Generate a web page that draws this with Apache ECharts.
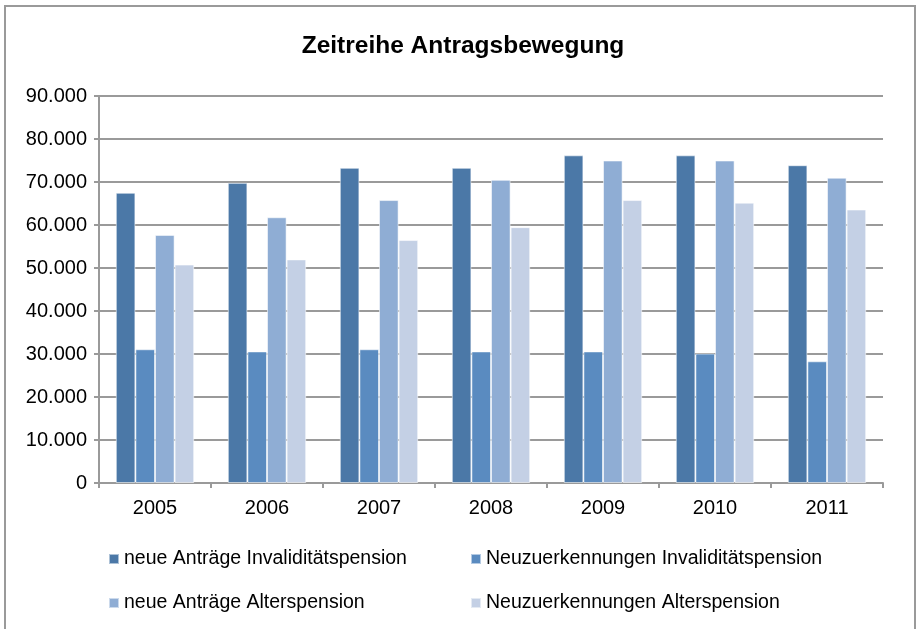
<!DOCTYPE html>
<html>
<head>
<meta charset="utf-8">
<script src="https://cdn.jsdelivr.net/npm/echarts@6/dist/echarts.min.js"></script>
<style>
  html, body { margin: 0; padding: 0; background: #fff; }
  #chart { width: 917px; height: 629px; }
</style>
</head>
<body>
<div id="chart"></div>
<script>
var years = ["2005", "2006", "2007", "2008", "2009", "2010", "2011"];
var seriesNames = [
  "neue Anträge Invaliditätspension",
  "Neuzuerkennungen Invaliditätspension",
  "neue Anträge Alterspension",
  "Neuzuerkennungen Alterspension"
];
var antraegeInvalid = [67500, 69800, 73300, 73300, 76200, 76200, 73900];
var neuInvalid = [31100, 30600, 31100, 30600, 30600, 30100, 28300];
var antraegeAlter = [57700, 61800, 65800, 70500, 75000, 75000, 71000];
var neuAlter = [50800, 52000, 56500, 59500, 65800, 65200, 63600];
var colors = ["#4b78a7", "#5a8bc0", "#8fadd4", "#c4d0e5"];

var chart = echarts.init(document.getElementById("chart"));
var font = "Liberation Sans, Arial, sans-serif";

function fmt(v) {
  // Tausendertrennzeichen mit Punkt
  return String(v).replace(/\B(?=(\d{3})+(?!\d))/g, ".");
}

function bar(i, data) {
  return {
    name: seriesNames[i],
    type: "bar",
    data: data,
    barGap: "0%",
    barCategoryGap: "30%",
    itemStyle: {
      color: colors[i],
      borderColor: "rgba(255,255,255,0.55)",
      borderWidth: 1
    }
  };
}

var legendText = { color: "#000", fontSize: 19.5, fontFamily: font };

var option = {
  backgroundColor: "#fff",
  animation: false,
  title: {
    text: "Zeitreihe Antragsbewegung",
    left: 458,
    textAlign: "center",
    top: 29,
    textStyle: { fontSize: 24.5, fontWeight: "bold", color: "#000", fontFamily: font }
  },
  graphic: [{
    type: "rect",
    shape: { x: 5, y: 6, width: 910, height: 640 },
    style: { fill: null, stroke: "#9a9a9a", lineWidth: 2 },
    silent: true
  }],
  legend: [
    {
      data: [seriesNames[0], seriesNames[2]],
      orient: "vertical",
      left: 103,
      top: 544,
      itemWidth: 10,
      itemHeight: 10,
      itemGap: 24,
      icon: "rect",
      textStyle: legendText
    },
    {
      data: [seriesNames[1], seriesNames[3]],
      orient: "vertical",
      left: 465,
      top: 544,
      itemWidth: 10,
      itemHeight: 10,
      itemGap: 24,
      icon: "rect",
      textStyle: legendText
    }
  ],
  grid: { left: 99, right: 34, top: 96, bottom: 146 },
  xAxis: {
    type: "category",
    data: years,
    axisLine: { lineStyle: { color: "#9a9a9a", width: 2 } },
    axisTick: { show: true, length: 5, lineStyle: { color: "#9a9a9a", width: 2 } },
    axisLabel: { color: "#000", fontSize: 20, fontFamily: font, margin: 15 }
  },
  yAxis: {
    type: "value",
    min: 0,
    max: 90000,
    interval: 10000,
    axisLine: { show: true, lineStyle: { color: "#9a9a9a", width: 2 } },
    axisTick: { show: true, length: 5, lineStyle: { color: "#9a9a9a", width: 2 } },
    splitLine: { lineStyle: { color: "#9a9a9a", width: 2 } },
    axisLabel: { color: "#000", fontSize: 20, fontFamily: font, margin: 12, formatter: fmt }
  },
  series: [
    bar(0, antraegeInvalid),
    bar(1, neuInvalid),
    bar(2, antraegeAlter),
    bar(3, neuAlter)
  ]
};
chart.setOption(option);
</script>
</body>
</html>
